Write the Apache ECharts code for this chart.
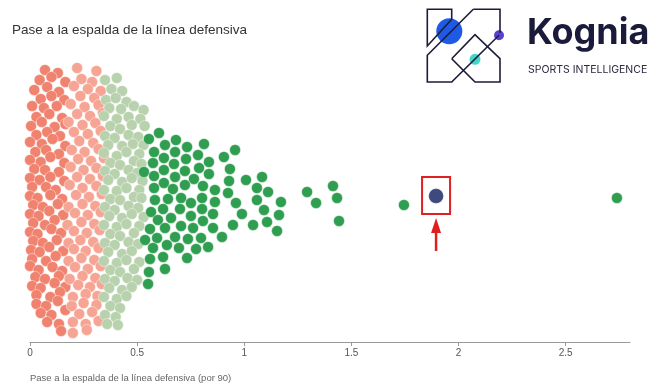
<!DOCTYPE html>
<html><head><meta charset="utf-8">
<script src="https://cdn.jsdelivr.net/npm/echarts@6/dist/echarts.min.js"></script>
<style>html,body{margin:0;padding:0;background:#fff}#c{width:660px;height:391px}</style>
</head><body><div id="c"></div>
<script>
const titleText = 'Pase a la espalda de la línea defensiva';
const axisTitle = 'Pase a la espalda de la línea defensiva (por 90)';
const xTicks = [0, 0.5, 1, 1.5, 2, 2.5];
// [value per 90, swarm offset]
const deepRed = [
[0.07,126],[0.13,123],
[0.045,116],[0.10,119],[0.165,114],
[0.02,106],[0.08,109],[0.135,104],
[0.05,97],[0.10,100],[0.16,96],
[0.01,90],[0.065,88],[0.125,90],
[0.03,79],[0.09,82],[0.15,78],
[0.005,70],[0.055,74],[0.115,69],[0.165,72],
[0.03,61],[0.08,64],[0.14,60],
[0.0,54],[0.055,52],[0.105,57],[0.165,50],
[0.025,44],[0.075,46],[0.135,42],
[0.0,36],[0.05,34],[0.095,39],[0.16,33],
[0.02,27],[0.07,26],[0.135,24],
[0.0,18],[0.045,16],[0.095,19],[0.16,15],
[0.01,9],[0.075,9],[0.12,6],
[0.0,0],[0.035,-2],[0.095,1],[0.15,-3],
[0.015,-9],[0.06,-11],[0.13,-8],
[0.0,-18],[0.04,-20],[0.09,-15],[0.155,-19],
[0.015,-27],[0.07,-29],[0.115,-24],
[0.0,-36],[0.035,-38],[0.10,-33],[0.145,-37],
[0.015,-45],[0.06,-47],[0.125,-44],
[0.005,-54],[0.045,-56],[0.09,-51],[0.155,-55],
[0.01,-63],[0.075,-65],[0.12,-60],
[0.0,-70],[0.04,-74],[0.105,-71],[0.15,-75],
[0.025,-81],[0.07,-83],[0.135,-80],
[0.01,-90],[0.05,-92],[0.115,-87],[0.165,-91],
[0.03,-99],[0.095,-101],[0.14,-96],
[0.03,-108],[0.075,-110],[0.13,-105],
[0.05,-117],[0.10,-119],[0.165,-114],
[0.08,-126],[0.135,-128],
[0.145,-135]
];
const lightRed = [
[0.22,128],[0.31,125],
[0.24,117],[0.29,114],
[0.205,110],[0.27,107],[0.33,105],
[0.235,100],[0.30,98],
[0.19,92],[0.255,89],[0.32,91],
[0.22,82],[0.28,80],[0.34,83],
[0.18,74],[0.245,71],[0.305,73],
[0.205,64],[0.27,62],[0.33,65],
[0.23,55],[0.295,53],
[0.195,46],[0.255,44],[0.32,47],
[0.225,37],[0.285,35],[0.345,38],
[0.19,29],[0.25,26],[0.31,28],
[0.22,19],[0.28,17],[0.34,20],
[0.185,11],[0.245,8],[0.31,10],
[0.215,1],[0.275,-1],[0.335,2],
[0.18,-11],[0.245,-8],[0.305,-10],
[0.21,-17],[0.27,-19],[0.33,-16],
[0.175,-29],[0.24,-26],[0.30,-28],
[0.205,-35],[0.265,-37],[0.325,-34],
[0.18,-47],[0.235,-44],[0.295,-46],
[0.205,-53],[0.26,-55],[0.32,-52],
[0.18,-65],[0.24,-62],[0.30,-64],
[0.21,-71],[0.27,-73],[0.33,-70],
[0.185,-83],[0.245,-80],[0.305,-82],
[0.225,-89],[0.28,-91],[0.335,-88],
[0.20,-101],[0.26,-98],[0.315,-100],
[0.195,-110],[0.25,-107],[0.31,-109],
[0.23,-118],[0.29,-116],
[0.20,-126],[0.26,-128],[0.32,-125],
[0.20,-137],[0.265,-134]
];
const lightGreen = [
[0.35,116],[0.405,118],
[0.38,107],[0.43,105],
[0.355,96],[0.40,98],[0.45,94],
[0.37,88],[0.425,87],[0.485,90],[0.53,86],
[0.345,80],[0.405,77],[0.46,79],[0.515,77],
[0.375,70],[0.42,67],[0.475,71],[0.535,70],
[0.35,60],[0.395,58],[0.46,61],[0.505,59],
[0.365,51],[0.43,50],[0.48,52],[0.53,51],
[0.345,43],[0.405,40],[0.45,44],[0.51,42],
[0.375,33],[0.42,31],[0.485,35],[0.52,32],
[0.35,25],[0.395,22],[0.46,26],[0.50,23],
[0.365,16],[0.43,14],[0.475,18],[0.525,15],
[0.345,6],[0.405,5],[0.45,8],[0.51,6],
[0.375,-3],[0.42,-4],[0.485,-1],[0.52,-2],
[0.35,-11],[0.395,-14],[0.46,-10],[0.505,-12],
[0.37,-20],[0.43,-22],[0.475,-18],[0.53,-21],
[0.345,-29],[0.405,-31],[0.45,-28],[0.51,-30],
[0.375,-38],[0.42,-40],[0.485,-37],
[0.35,-47],[0.395,-49],[0.46,-46],[0.505,-48],
[0.365,-56],[0.43,-58],[0.475,-55],
[0.345,-65],[0.405,-67],[0.45,-64],[0.51,-66],
[0.375,-74],[0.42,-76],[0.485,-73],
[0.35,-83],[0.395,-85],[0.455,-82],[0.50,-84],
[0.37,-92],[0.43,-94],[0.475,-91],
[0.345,-101],[0.405,-103],[0.45,-100],
[0.375,-110],[0.42,-112],
[0.35,-119],[0.40,-121],
[0.36,-128],[0.41,-129]
];
const darkGreen = [
[0.602,63],[0.555,57],[0.681,56],[0.63,51],[0.733,49],[0.812,52],[0.957,46],
[0.579,44],[0.677,44],[0.784,41],[0.905,39],[0.625,38],[0.728,37],[0.574,33],
[0.672,32],[0.835,34],[0.532,24],[0.625,26],[0.723,25],[0.789,28],[0.933,27],
[0.579,20],[0.677,19],[0.765,17],[0.835,22],[1.008,16],[1.083,19],[0.625,13],
[0.723,11],[0.929,15],[0.579,8],[0.667,7],[0.807,10],[1.059,8],[0.863,6],
[0.924,3],[1.111,4],[0.583,-4],[0.644,-3],[0.705,-2],[0.751,-7],[0.803,-2],
[0.863,-6],[0.961,-7],[1.059,-4],[1.092,-14],[0.565,-16],[0.621,-13],[0.70,-13],
[0.751,-20],[0.803,-13],[0.854,-18],[0.989,-18],[1.106,-26],[0.597,-24],[0.658,-22],
[0.705,-30],[0.761,-32],[0.807,-25],[0.854,-32],[0.947,-29],[1.041,-29],[0.56,-33],
[0.63,-32],[0.896,-41],[0.593,-42],[0.677,-41],[0.737,-43],[0.798,-42],[0.537,-44],
[0.574,-52],[0.639,-49],[0.695,-52],[0.775,-53],[0.831,-51],[0.621,-61],[0.733,-62],
[0.56,-63],[0.63,-73],[0.555,-76],[0.551,-88],
[1.171,-6],[1.162,-19],[1.153,-35],[1.293,4],[1.335,-7],[1.414,10],[1.433,-2],
[1.442,-25],[1.745,-9],[2.739,-2]
];
const highlighted = [[1.895, 0]];

const chart = echarts.init(document.getElementById('c'), null, {renderer: 'canvas'});
const dot = (data, color, size, z) => ({
  type: 'scatter', data, symbol: 'circle', symbolSize: size, z,
  itemStyle: {color, opacity: 1, borderColor: 'rgba(255,255,255,0.7)', borderWidth: 0.6},
  emphasis: {disabled: true}, silent: true
});
const NAVY = '#1c1c38';
const logo = {
  type: 'group', children: [
    {type: 'circle', shape: {cx: 449.3, cy: 31.3, r: 13}, style: {fill: '#1f5ae6'}},
    {type: 'circle', shape: {cx: 499, cy: 35.3, r: 5}, style: {fill: '#5a3fd0'}},
    {type: 'circle', shape: {cx: 475, cy: 59.3, r: 5.5}, style: {fill: '#3fd6cc'}},
    {type: 'polyline', shape: {points: [[451.7,19.3],[451.7,9.3],[427.3,9.3],[427.3,46],[451.7,19.3]]}, style: {stroke: NAVY, lineWidth: 1.6, fill: null}},
    {type: 'polyline', shape: {points: [[473.3,9.3],[500,9.3],[500,32.7]]}, style: {stroke: NAVY, lineWidth: 1.6, fill: null}},
    {type: 'polyline', shape: {points: [[473.3,9.3],[427.3,55.3],[427.3,82],[451.7,82],[499,35.3]]}, style: {stroke: NAVY, lineWidth: 1.6, fill: null}},
    {type: 'polyline', shape: {points: [[451.7,58.7],[475,34.7],[500,58.7],[500,82],[475,82],[451.7,58.7]]}, style: {stroke: NAVY, lineWidth: 1.6, fill: null}},
    {type: 'text', left: 527, top: 15, style: {text: 'Kognia', font: 'bold 36px Inter, "Noto Sans", sans-serif', fill: '#1a1a3a'}},
    {type: 'text', left: 528, top: 64, style: {text: 'SPORTS INTELLIGENCE', font: '10.5px Inter, "Noto Sans", sans-serif', fill: '#2a2a40'}}
  ]
};
chart.setOption({
  animation: false,
  backgroundColor: '#fff',
  title: [
    {text: titleText, left: 12, top: 23, padding: 0, textStyle: {fontSize: 13.5, fontWeight: 'normal', color: '#333', fontFamily: '"Liberation Sans", Arial, sans-serif'}},
    {text: axisTitle, left: 30, top: 373, padding: 0, textStyle: {fontSize: 9.5, fontWeight: 'normal', color: '#666', fontFamily: '"Liberation Sans", Arial, sans-serif'}}
  ],
  grid: {left: 30, right: 30, top: 62, bottom: 49},
  xAxis: {
    type: 'value', min: 0, max: 2.8, interval: 0.5,
    splitLine: {show: false},
    axisLine: {onZero: false, lineStyle: {color: '#999', width: 1}},
    axisTick: {show: true, length: 4, customValues: xTicks, lineStyle: {color: '#999'}},
    axisLabel: {customValues: xTicks, color: '#555', fontSize: 10, margin: 6, fontFamily: '"Liberation Sans", Arial, sans-serif', formatter: v => String(v)}
  },
  yAxis: {type: 'value', min: -146, max: 134, show: false},
  series: [
    dot(deepRed, '#f0836f', 11, 2),
    dot(lightRed, '#f6a494', 11, 3),
    dot(lightGreen, '#b9d2ae', 11, 4),
    dot(darkGreen, '#2f9e50', 11, 5),
    dot(highlighted, '#3c4a7e', 15, 6)
  ],
  graphic: [logo]
});
const p = chart.convertToPixel({gridIndex: 0}, highlighted[0]);
const RED = '#e02020';
chart.setOption({
  graphic: [logo,
    {type: 'rect', shape: {x: p[0] - 14, y: p[1] - 19, width: 28, height: 37}, style: {stroke: RED, lineWidth: 2, fill: null}, z: 10},
    {type: 'line', shape: {x1: p[0], y1: p[1] + 55, x2: p[0], y2: p[1] + 34}, style: {stroke: RED, lineWidth: 2.5}, z: 10},
    {type: 'polygon', shape: {points: [[p[0], p[1] + 22], [p[0] - 5, p[1] + 37], [p[0] + 5, p[1] + 37]]}, style: {fill: RED}, z: 10}
  ]
});
</script></body></html>
